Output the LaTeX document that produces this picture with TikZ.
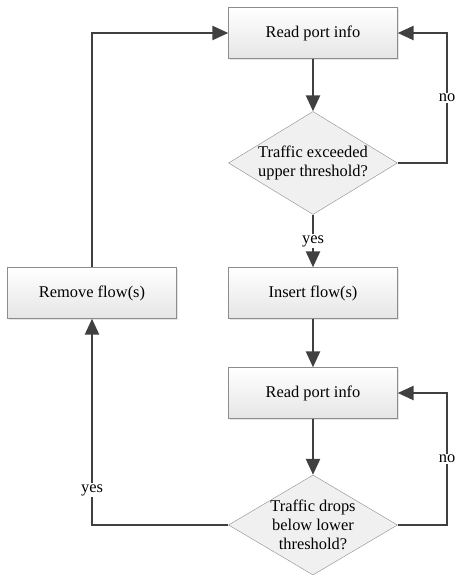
\documentclass[tikz,border=0pt]{standalone}
\usepackage{fontspec}
\setmainfont{Liberation Serif}
\usetikzlibrary{shapes.geometric, arrows.meta, shadows}
\definecolor{linegray}{RGB}{64,64,64}
\definecolor{boxedge}{RGB}{140,140,140}
\tikzstyle{process} = [rectangle, minimum width=169pt, minimum height=51pt, text centered, draw=boxedge, top color=white, bottom color=black!10, drop shadow={shadow xshift=1.5pt, shadow yshift=-1.5pt, opacity=0.2}]
\tikzstyle{decision} = [diamond, aspect=1.64, inner sep=-2pt, minimum width=169pt, align=center, draw=boxedge, fill=black!6]
\tikzstyle{arrow} = [line width=2.6pt, draw=linegray, -{Triangle[length=16pt,width=14pt]}]
\tikzstyle{answer} = [fill=white, inner sep=1pt]

\begin{document}
\begin{tikzpicture}[x=1pt, y=-1pt, font=\fontsize{16.4}{19}\selectfont]
      \useasboundingbox (0,0) rectangle (455,575);
      \node (read1) [process] at (313,33) {Read port info};
      \node (test1) [decision, minimum height=103pt] at (313,163) {Traffic exceeded\\upper threshold?};
      \node (insert) [process] at (313,293) {Insert flow(s)};
      \node (read2) [process] at (313,393) {Read port info};
      \node (test2) [decision, minimum height=100pt] at (313,525) {Traffic drops\\below lower\\threshold?};
      \node (remove) [process] at (92,293) {Remove flow(s)};
      % corners of the loops
      \coordinate (c1) at (447,163);
      \coordinate (c2) at (447,33);
      \coordinate (c3) at (447,525);
      \coordinate (c4) at (447,393);
      \coordinate (c5) at (92,525);
      \coordinate (c6) at (92,33);
      \draw[arrow] (read1)--(test1);
      \draw[arrow] (test1)--node[answer] {yes} (insert);
      \draw[arrow] (insert)--(read2);
      \draw[arrow] (read2)--(test2);
      \draw[arrow] (test1.east)--(c1)--node[answer] {no} (c2)--(read1.east);
      \draw[arrow] (test2.east)--(c3)--node[answer] {no} (c4)--(read2.east);
      \draw[arrow] (test2.west)--(c5)--node[answer, pos=0.17] {yes} (remove.south);
      \draw[arrow] (remove.north)--(c6)--(read1.west);
      \end{tikzpicture}
\end{document}
